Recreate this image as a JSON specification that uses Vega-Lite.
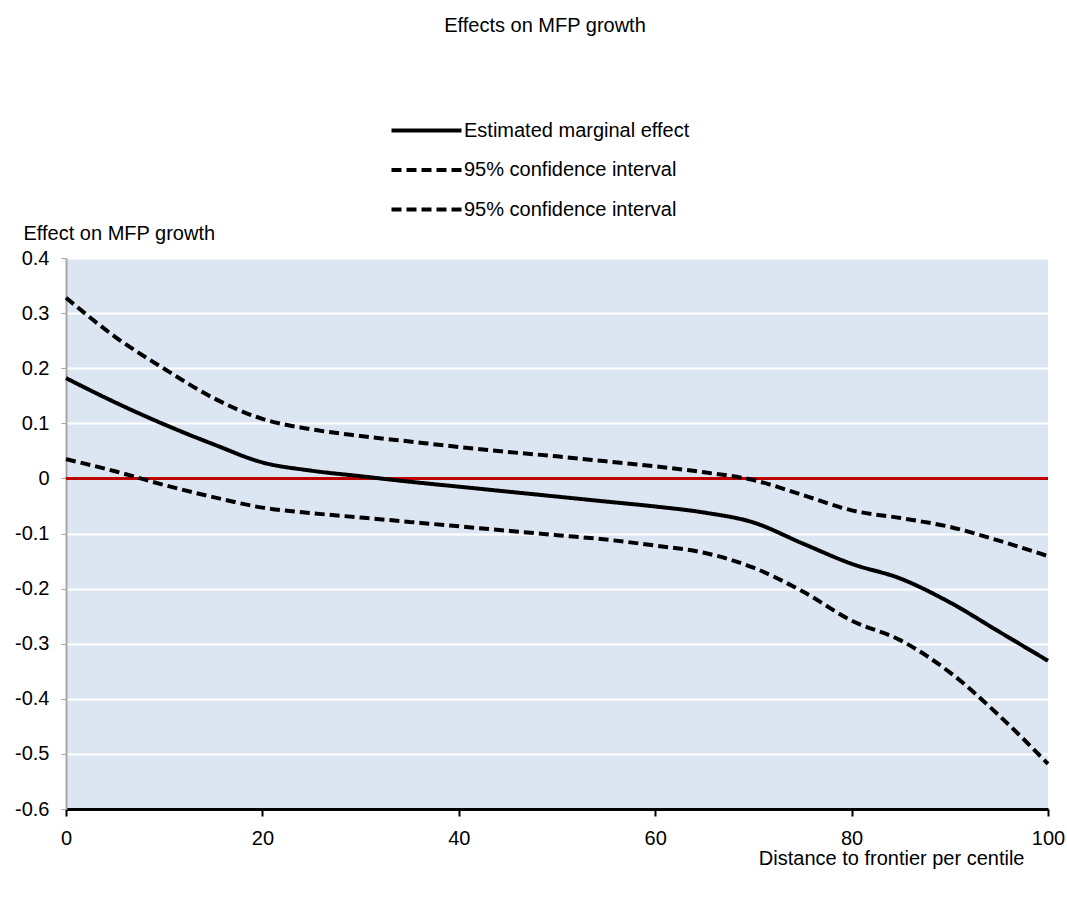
{
  "$schema": "https://vega.github.io/schema/vega-lite/v6.json",
  "autosize": {"type": "none"},
  "width": 982,
  "height": 551,
  "padding": {"left": 66, "top": 258, "right": 19, "bottom": 90},
  "background": "white",
  "config": {
    "font": "Liberation Sans",
    "view": {"fill": "#DCE6F2", "stroke": null}
  },
  "title": {
    "text": "Effects on MFP growth",
    "anchor": "middle",
    "frame": "group",
    "fontSize": 20,
    "fontWeight": "normal",
    "color": "black",
    "dx": -12,
    "offset": 75
  },
  "datasets": {
    "curves": [
      {"x": 0, "s": "Estimated marginal effect", "v": 0.182},
      {"x": 5, "s": "Estimated marginal effect", "v": 0.138},
      {"x": 10, "s": "Estimated marginal effect", "v": 0.098},
      {"x": 15, "s": "Estimated marginal effect", "v": 0.062},
      {"x": 20, "s": "Estimated marginal effect", "v": 0.029},
      {"x": 25, "s": "Estimated marginal effect", "v": 0.014},
      {"x": 30, "s": "Estimated marginal effect", "v": 0.004},
      {"x": 35, "s": "Estimated marginal effect", "v": -0.006},
      {"x": 40, "s": "Estimated marginal effect", "v": -0.015},
      {"x": 45, "s": "Estimated marginal effect", "v": -0.024},
      {"x": 50, "s": "Estimated marginal effect", "v": -0.033},
      {"x": 55, "s": "Estimated marginal effect", "v": -0.042},
      {"x": 60, "s": "Estimated marginal effect", "v": -0.051},
      {"x": 65, "s": "Estimated marginal effect", "v": -0.062},
      {"x": 70, "s": "Estimated marginal effect", "v": -0.080},
      {"x": 75, "s": "Estimated marginal effect", "v": -0.118},
      {"x": 80, "s": "Estimated marginal effect", "v": -0.155},
      {"x": 85, "s": "Estimated marginal effect", "v": -0.182},
      {"x": 90, "s": "Estimated marginal effect", "v": -0.225},
      {"x": 95, "s": "Estimated marginal effect", "v": -0.278},
      {"x": 100, "s": "Estimated marginal effect", "v": -0.331},
      {"x": 0, "s": "95% confidence interval (upper)", "v": 0.328},
      {"x": 5, "s": "95% confidence interval (upper)", "v": 0.257},
      {"x": 10, "s": "95% confidence interval (upper)", "v": 0.199},
      {"x": 15, "s": "95% confidence interval (upper)", "v": 0.146},
      {"x": 20, "s": "95% confidence interval (upper)", "v": 0.108},
      {"x": 25, "s": "95% confidence interval (upper)", "v": 0.089},
      {"x": 30, "s": "95% confidence interval (upper)", "v": 0.077},
      {"x": 35, "s": "95% confidence interval (upper)", "v": 0.067},
      {"x": 40, "s": "95% confidence interval (upper)", "v": 0.057},
      {"x": 45, "s": "95% confidence interval (upper)", "v": 0.048},
      {"x": 50, "s": "95% confidence interval (upper)", "v": 0.040},
      {"x": 55, "s": "95% confidence interval (upper)", "v": 0.031},
      {"x": 60, "s": "95% confidence interval (upper)", "v": 0.022},
      {"x": 65, "s": "95% confidence interval (upper)", "v": 0.011},
      {"x": 70, "s": "95% confidence interval (upper)", "v": -0.003},
      {"x": 75, "s": "95% confidence interval (upper)", "v": -0.030},
      {"x": 80, "s": "95% confidence interval (upper)", "v": -0.058},
      {"x": 85, "s": "95% confidence interval (upper)", "v": -0.072},
      {"x": 90, "s": "95% confidence interval (upper)", "v": -0.088},
      {"x": 95, "s": "95% confidence interval (upper)", "v": -0.113},
      {"x": 100, "s": "95% confidence interval (upper)", "v": -0.141},
      {"x": 0, "s": "95% confidence interval (lower)", "v": 0.035},
      {"x": 5, "s": "95% confidence interval (lower)", "v": 0.013},
      {"x": 10, "s": "95% confidence interval (lower)", "v": -0.012},
      {"x": 15, "s": "95% confidence interval (lower)", "v": -0.034},
      {"x": 20, "s": "95% confidence interval (lower)", "v": -0.053},
      {"x": 25, "s": "95% confidence interval (lower)", "v": -0.063},
      {"x": 30, "s": "95% confidence interval (lower)", "v": -0.071},
      {"x": 35, "s": "95% confidence interval (lower)", "v": -0.079},
      {"x": 40, "s": "95% confidence interval (lower)", "v": -0.087},
      {"x": 45, "s": "95% confidence interval (lower)", "v": -0.095},
      {"x": 50, "s": "95% confidence interval (lower)", "v": -0.103},
      {"x": 55, "s": "95% confidence interval (lower)", "v": -0.111},
      {"x": 60, "s": "95% confidence interval (lower)", "v": -0.122},
      {"x": 65, "s": "95% confidence interval (lower)", "v": -0.135},
      {"x": 70, "s": "95% confidence interval (lower)", "v": -0.162},
      {"x": 75, "s": "95% confidence interval (lower)", "v": -0.205},
      {"x": 80, "s": "95% confidence interval (lower)", "v": -0.258},
      {"x": 85, "s": "95% confidence interval (lower)", "v": -0.294},
      {"x": 90, "s": "95% confidence interval (lower)", "v": -0.352},
      {"x": 95, "s": "95% confidence interval (lower)", "v": -0.430},
      {"x": 100, "s": "95% confidence interval (lower)", "v": -0.518}
    ],
    "zero": [{"z": 0}]
  },
  "layer": [
    {
      "data": {"name": "zero"},
      "mark": {"type": "rule", "color": "#C00000", "strokeWidth": 3},
      "encoding": {
        "y": {"field": "z", "type": "quantitative"}
      }
    },
    {
      "data": {"name": "curves"},
      "mark": {"type": "line", "color": "black", "strokeWidth": 4, "interpolate": "monotone"},
      "encoding": {
        "x": {
          "field": "x",
          "type": "quantitative",
          "scale": {"domain": [0, 100], "nice": false, "zero": false},
          "axis": {
            "title": "Distance to frontier per centile",
            "titleFontSize": 20,
            "titleFontWeight": "normal",
            "titleColor": "black",
            "titleAlign": "right",
            "titleAnchor": null,
            "titleX": 958,
            "titleY": 55,
            "titleBaseline": "alphabetic",
            "values": [0, 20, 40, 60, 80, 100],
            "grid": false,
            "domainColor": "black",
            "domainWidth": 3,
            "tickColor": "black",
            "tickWidth": 2,
            "tickSize": 7,
            "labelFontSize": 20,
            "labelColor": "black",
            "labelPadding": 12,
            "labelFlush": false
          }
        },
        "y": {
          "field": "v",
          "type": "quantitative",
          "scale": {"domain": [-0.6, 0.4], "nice": false, "zero": false},
          "axis": {
            "title": "Effect on MFP growth",
            "titleAngle": 0,
            "titleAlign": "left",
            "titleAnchor": null,
            "titleX": -43,
            "titleY": -25,
            "titleBaseline": "middle",
            "titleFontSize": 20,
            "titleFontWeight": "normal",
            "titleColor": "black",
            "values": [-0.6, -0.5, -0.4, -0.3, -0.2, -0.1, 0, 0.1, 0.2, 0.3, 0.4],
            "labelExpr": "abs(datum.value) < 1e-9 ? '0' : (datum.value < 0 ? '-' + format(-datum.value, '.1f') : format(datum.value, '.1f'))",
            "labelFontSize": 20,
            "labelColor": "black",
            "labelPadding": 12,
            "grid": true,
            "gridColor": "white",
            "gridWidth": 2,
            "domainColor": "#A6A6A6",
            "domainWidth": 2,
            "tickColor": "#A6A6A6",
            "tickSize": 5,
            "tickWidth": 1
          }
        },
        "strokeDash": {
          "field": "s",
          "type": "nominal",
          "scale": {
            "domain": ["Estimated marginal effect", "95% confidence interval (upper)", "95% confidence interval (lower)"],
            "range": [[1, 0], [10, 5], [10, 5]]
          },
          "legend": {
            "title": null,
            "orient": "none",
            "legendX": 341,
            "legendY": -147,
            "symbolType": "M-2,0H2",
            "symbolSize": 1225,
            "symbolStrokeWidth": 4,
            "symbolStrokeColor": "black",
            "symbolFillColor": "transparent",
            "labelFontSize": 20,
            "labelColor": "black",
            "labelOffset": 18,
            "labelLimit": 500,
            "rowPadding": 9.5,
            "labelExpr": "replace(replace(datum.label, ' (upper)', ''), ' (lower)', '')"
          }
        },
        "detail": {"field": "s", "type": "nominal"}
      }
    }
  ]
}
